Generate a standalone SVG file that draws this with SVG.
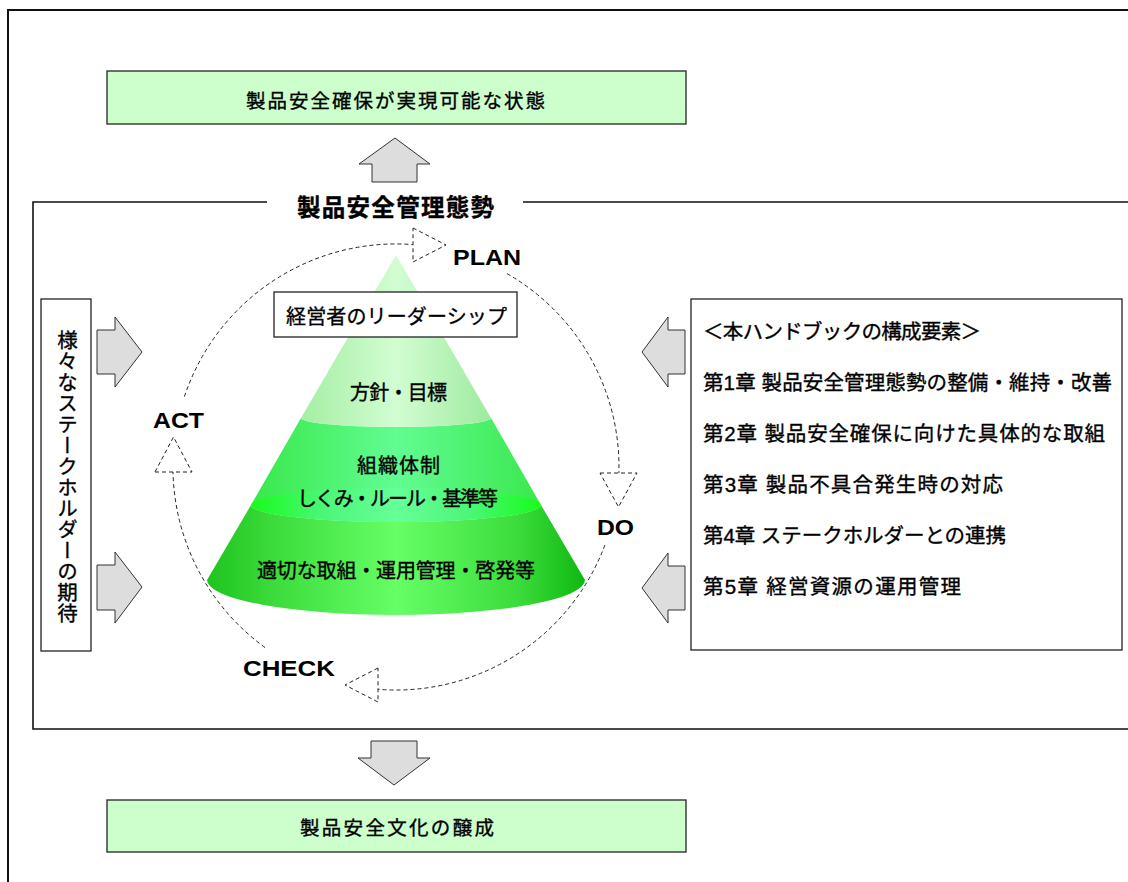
<svg xmlns="http://www.w3.org/2000/svg" width="1128" height="882" viewBox="0 0 1128 882">
<style>
.jp{font-family:"Liberation Sans","Noto Sans CJK JP",sans-serif;fill:#000;stroke:#000;stroke-width:0.35;}
.lat{font-family:"Liberation Sans",Arial,sans-serif;font-weight:bold;font-size:22px;fill:#000;}
.box{fill:#ccffcc;stroke:#333;stroke-width:1.4;}
.wbox{fill:#fff;stroke:#222;stroke-width:1.3;}
.garrow{fill:#dddddd;stroke:#333;stroke-width:1;stroke-linejoin:miter;}
.dash{fill:none;stroke:#222;stroke-width:1;stroke-dasharray:4 3;}
.dtri{fill:#fff;stroke:#222;stroke-width:1;stroke-dasharray:4 3;}
.frame{fill:none;stroke:#111;}
</style>
<defs>
<linearGradient id="gTop" x1="0" y1="0" x2="1" y2="0">
<stop offset="0" stop-color="#a4eea4"/>
<stop offset="0.5" stop-color="#d2fdd2"/>
<stop offset="1" stop-color="#9eea9e"/>
</linearGradient>
<linearGradient id="gMid" x1="0" y1="0" x2="1" y2="0">
<stop offset="0" stop-color="#38e84a"/>
<stop offset="0.5" stop-color="#62fc92"/>
<stop offset="1" stop-color="#3ae84e"/>
</linearGradient>
<linearGradient id="gRim" x1="0" y1="0" x2="1" y2="0">
<stop offset="0" stop-color="#11ff11"/>
<stop offset="0.25" stop-color="#4cf77a"/>
<stop offset="0.5" stop-color="#66ff99"/>
<stop offset="0.75" stop-color="#4cf77a"/>
<stop offset="1" stop-color="#11ff11"/>
</linearGradient>
<linearGradient id="gBot" x1="0" y1="0" x2="1" y2="0">
<stop offset="0" stop-color="#1ec41e"/>
<stop offset="0.18" stop-color="#3cdc3c"/>
<stop offset="0.5" stop-color="#66ff66"/>
<stop offset="0.82" stop-color="#3cdc3c"/>
<stop offset="1" stop-color="#10b810"/>
</linearGradient>
</defs>
<rect width="1128" height="882" fill="#fff"/>

<g id="outer-frame">
<path class="frame" d="M8 882 L8 10 L1128 10" stroke-width="2"/>
</g>
<g id="inner-frame">
<path class="frame" d="M267 202 L33 202 L33 729 L1128 729 M523 202 L1128 202" stroke-width="1.6"/>
</g>

<g id="goal-top">
<rect class="box" x="107" y="71" width="579" height="53"/>
<text class="jp" x="246" y="107.5" font-size="19.5" textLength="299" lengthAdjust="spacing">製品安全確保が実現可能な状態</text>
</g>

<g id="title">
<text class="jp" x="297" y="216" font-size="23.5" font-weight="bold" textLength="197" lengthAdjust="spacing">製品安全管理態勢</text>
</g>

<g id="goal-bottom">
<rect class="box" x="107" y="800" width="579" height="52"/>
<text class="jp" x="300" y="834.5" font-size="19.5" textLength="194" lengthAdjust="spacing">製品安全文化の醸成</text>
</g>

<g id="pyramid">
<path d="M251 505 A145 17 0 0 0 541 505 L585 580 A189 35 0 0 1 207 580 Z" fill="url(#gBot)"/>
<path d="M301 418 A95 9 0 0 0 491 418 L541 505 A145 17 0 0 1 251 505 Z" fill="url(#gMid)"/>
<ellipse cx="396" cy="505" rx="145" ry="17" fill="url(#gRim)" opacity="0.85"/>
<path d="M396 255 L491 418 A95 9 0 0 1 301 418 Z" fill="url(#gTop)"/>
<text class="jp" x="350" y="399.5" font-size="20" textLength="97" lengthAdjust="spacing">方針・目標</text>
<text class="jp" x="357" y="472.5" font-size="20" textLength="83" lengthAdjust="spacing">組織体制</text>
<text class="jp" x="297" y="505.5" font-size="20" textLength="201" lengthAdjust="spacing">しくみ・ルール・基準等</text>
<text class="jp" x="257" y="577.5" font-size="20" textLength="278" lengthAdjust="spacing">適切な取組・運用管理・啓発等</text>
</g>

<g id="leadership">
<rect class="wbox" x="274" y="292" width="243" height="45"/>
<text class="jp" x="286" y="323.5" font-size="20" textLength="221" lengthAdjust="spacing">経営者のリーダーシップ</text>
</g>

<g id="stakeholders">
<rect class="wbox" x="41" y="299" width="50" height="352"/>
<text class="jp" x="66" y="330" font-size="20.5" style="writing-mode:vertical-rl" textLength="293" lengthAdjust="spacing">様々なステークホルダーの期待</text>
</g>

<g id="handbook">
<rect class="wbox" x="691" y="299" width="431" height="351"/>
<g class="jp" font-size="20.5">
<text x="703" y="338.5" textLength="278" lengthAdjust="spacing">＜本ハンドブックの構成要素＞</text>
<text x="703" y="389.5" textLength="409" lengthAdjust="spacing">第1章 製品安全管理態勢の整備・維持・改善</text>
<text x="703" y="440.5" textLength="402" lengthAdjust="spacing">第2章 製品安全確保に向けた具体的な取組</text>
<text x="703" y="491.5" textLength="300" lengthAdjust="spacing">第3章 製品不具合発生時の対応</text>
<text x="703" y="542.5" textLength="303" lengthAdjust="spacing">第4章 ステークホルダーとの連携</text>
<text x="703" y="593.5" textLength="258" lengthAdjust="spacing">第5章 経営資源の運用管理</text>
</g>
</g>

<g id="connectors">
<polygon class="garrow" points="372,182 372,164 359,164 395,138 430,164 417,164 417,182"/>
<polygon class="garrow" points="371,741 417,741 417,758 430,758 394,785 358,758 371,758"/>
<polygon class="garrow" points="97,330 115,330 115,317 142,352 115,387 115,374 97,374"/>
<polygon class="garrow" points="97,565 115,565 115,552 142,587 115,623 115,610 97,610"/>
<polygon class="garrow" points="685,330 668,330 668,317 642,352 668,387 668,374 685,374"/>
<polygon class="garrow" points="685,566 668,566 668,553 642,588 668,623 668,610 685,610"/>

<path class="dash" d="M184.4 396.6 A223 223 0 0 1 413 244.6"/>
<path class="dash" d="M507 273.6 A223 223 0 0 1 618.9 473"/>
<path class="dash" d="M604.9 545 A223 223 0 0 1 378 689.3"/>
<path class="dash" d="M265 647.5 A223 223 0 0 1 173 472"/>

<polygon class="dtri" points="413,228 446,245 413,262"/>
<polygon class="dtri" points="600,473 637,473 618.5,507"/>
<polygon class="dtri" points="378,668 345,685 378,702"/>
<polygon class="dtri" points="155,472 192,472 173.5,437"/>
</g>

<g id="pdca-labels">
<text class="lat" x="453" y="265" textLength="68" lengthAdjust="spacingAndGlyphs">PLAN</text>
<text class="lat" x="597" y="535" textLength="37" lengthAdjust="spacingAndGlyphs">DO</text>
<text class="lat" x="243" y="676" textLength="92" lengthAdjust="spacingAndGlyphs">CHECK</text>
<text class="lat" x="153" y="428" textLength="51" lengthAdjust="spacingAndGlyphs">ACT</text>
</g>
</svg>
